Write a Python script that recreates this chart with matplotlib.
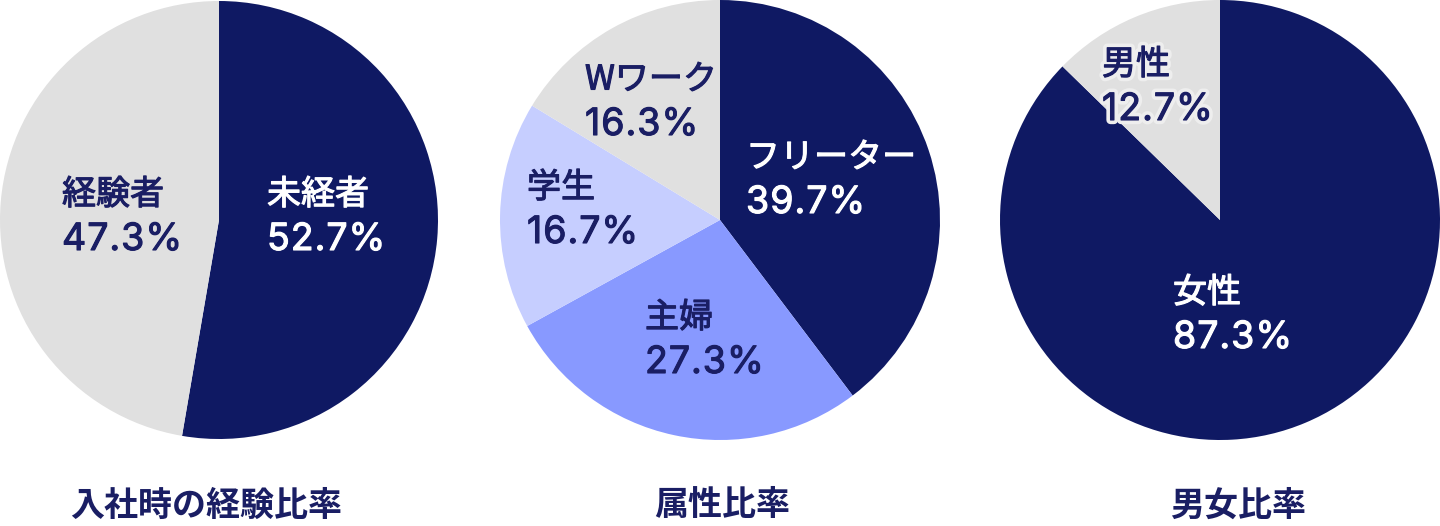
import matplotlib
matplotlib.use("Agg")
import matplotlib.pyplot as plt
import matplotlib.patheffects as pe

plt.rcParams['font.family'] = ['Noto Sans CJK JP', 'DejaVu Sans']

NAVY = '#0f1963'
GREY = '#e0e0e0'
LIGHT = '#c6ceff'
MID = '#8899ff'
TEXT = '#1a1e64'

# data
exp_labels = ['未経者', '経験者']
exp_values = [52.7, 47.3]
attr_labels = ['フリーター', '主婦', '学生', 'Wワーク']
attr_values = [39.7, 27.3, 16.7, 16.3]
sex_labels = ['女性', '男性']
sex_values = [87.3, 12.7]
titles = ['入社時の経験比率', '属性比率', '男女比率']

W, H = 1440, 526
fig = plt.figure(figsize=(W / 100, H / 100), dpi=100)
ax = fig.add_axes([0, 0, 1, 1])
renderer = fig.canvas.get_renderer()


def pie(values, colors, cx, cy, r):
    ax.pie(values, colors=colors, startangle=90, counterclock=False,
           center=(cx, H - cy), radius=r, wedgeprops=dict(linewidth=0))


def spaced(x, y, s, gap, **kw):
    # one char at a time, the percentages are letter-spaced in the original
    for ch in s:
        t = ax.text(x, y, ch, **kw)
        x += t.get_window_extent(renderer).width + gap


def label(x, y, name, value, color, halo=False):
    effects = [pe.Stroke(linewidth=0.8, foreground=color), pe.Normal()]
    if halo:
        effects = [pe.Stroke(linewidth=6, foreground='#eeeeee')] + effects
    kw = dict(color=color, ha='left', va='center', path_effects=effects)
    ax.text(x, H - y, name, fontsize=24.5, **kw)
    spaced(x, H - y - 45, f"{value:.1f}%", 1, fontsize=27,
           family=['Inter', 'DejaVu Sans'], **kw)


pie(exp_values, [NAVY, GREY], 219, 220, 219)
pie(attr_values, [NAVY, MID, LIGHT, GREY], 720, 220, 220)
pie(sex_values, [NAVY, GREY], 1220, 220, 220)
ax.set_xlim(0, W)
ax.set_ylim(0, H)

label(267, 195, exp_labels[0], exp_values[0], 'white')
label(62, 195, exp_labels[1], exp_values[1], TEXT)

label(746, 158, attr_labels[0], attr_values[0], 'white')
label(645, 318, attr_labels[1], attr_values[1], TEXT)
label(527, 188, attr_labels[2], attr_values[2], TEXT)
label(585, 80, attr_labels[3], attr_values[3], TEXT)

label(1173, 293, sex_labels[0], sex_values[0], 'white')
label(1102, 65, sex_labels[1], sex_values[1], TEXT, halo=True)

for x, t in zip([206, 722, 1238], titles):
    ax.text(x, H - 505, t, fontsize=24.5, fontweight='bold', color=TEXT,
            ha='center', va='center')

ax.set_aspect('auto')
ax.axis('off')

fig.savefig('out.png', dpi=100, facecolor='white')
